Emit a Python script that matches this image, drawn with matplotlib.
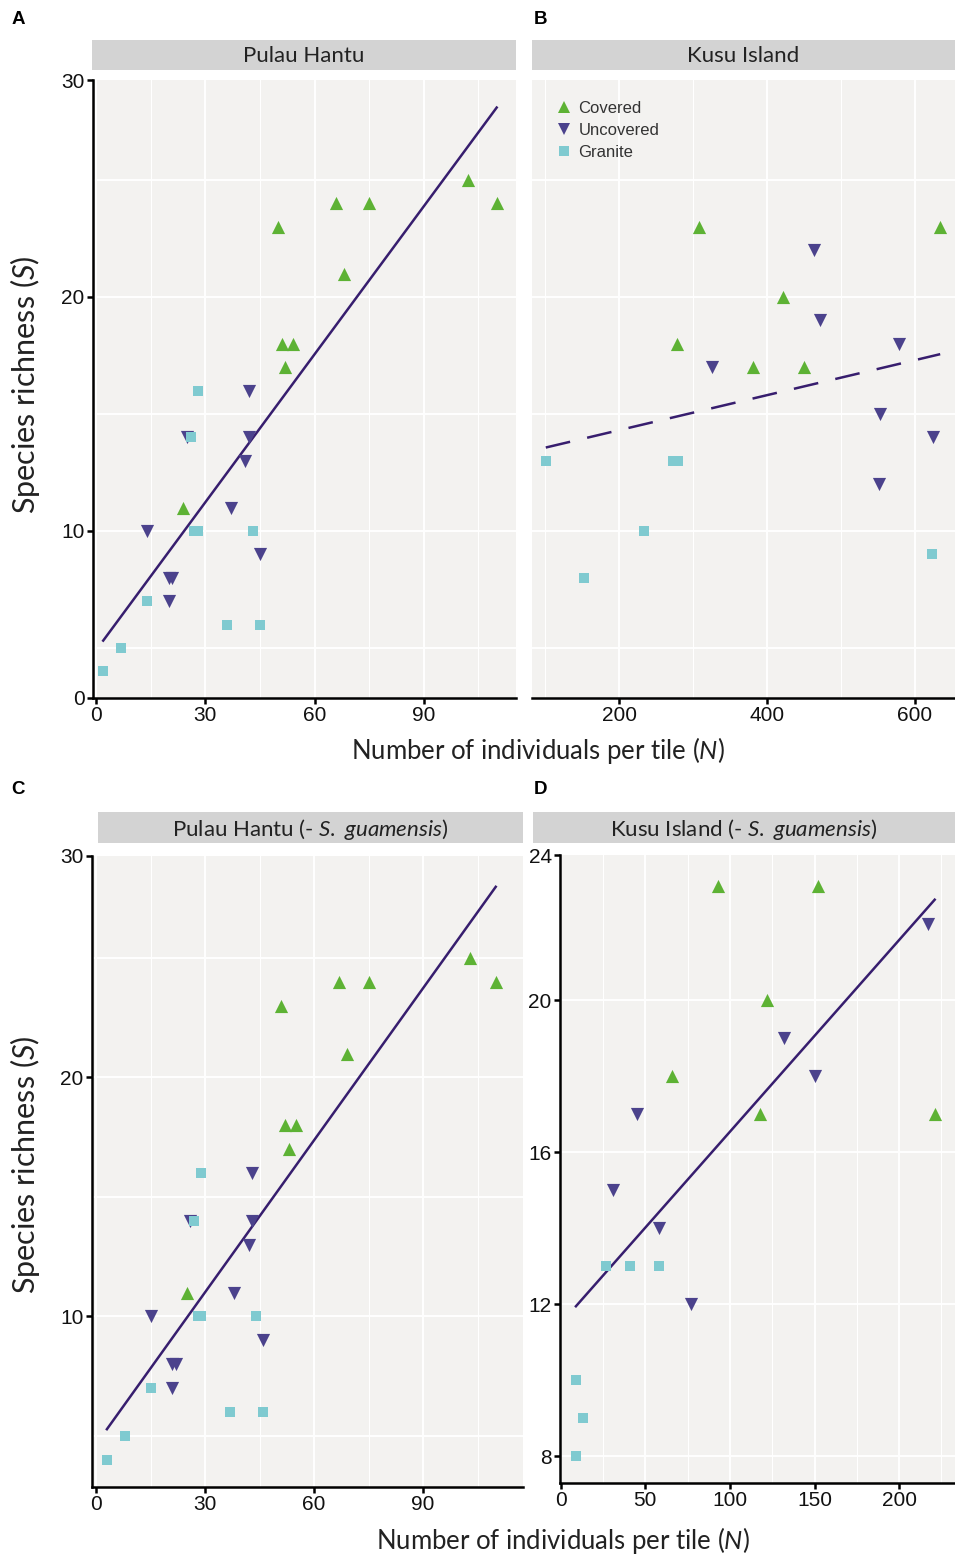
import numpy as np
import matplotlib.pyplot as plt
from matplotlib.lines import Line2D

# ---- data ----
# A: Pulau Hantu
ph_cov_n = [24, 50, 51, 54, 52, 66, 68, 75, 102, 110]
ph_cov_s = [11, 23, 18, 18, 17, 24, 21, 24, 25, 24]
ph_unc_n = [14, 20, 21, 20, 25, 37, 41, 42, 42, 45]
ph_unc_s = [10, 8, 8, 7, 14, 11, 13, 14, 16, 9]
ph_gra_n = [2, 7, 14, 26, 27, 28, 28, 36, 43, 45]
ph_gra_s = [4, 5, 7, 14, 10, 10, 16, 6, 10, 6]

# B: Kusu Island
ku_cov_n = [278, 308, 381, 422, 450, 634]
ku_cov_s = [18, 23, 17, 20, 17, 23]
ku_unc_n = [325, 463, 472, 553, 551, 578, 624]
ku_unc_s = [17, 22, 19, 15, 12, 18, 14]
ku_gra_n = [101, 152, 234, 273, 280, 623]
ku_gra_s = [13, 8, 10, 13, 13, 9]

# C: Pulau Hantu (- S. guamensis)
phg_cov_n = [25, 51, 52, 55, 53, 67, 69, 75, 103, 110]
phg_cov_s = [11, 23, 18, 18, 17, 24, 21, 24, 25, 24]
phg_unc_n = [15, 21, 22, 21, 26, 38, 42, 43, 43, 46]
phg_unc_s = [10, 8, 8, 7, 14, 11, 13, 14, 16, 9]
phg_gra_n = [3, 8, 15, 27, 28, 29, 29, 37, 44, 46]
phg_gra_s = [4, 5, 7, 14, 10, 10, 16, 6, 10, 6]

# D: Kusu Island (- S. guamensis)
kug_cov_n = [66, 93, 118, 122, 152, 221]
kug_cov_s = [18, 23, 17, 20, 23, 17]
kug_unc_n = [31, 45, 58, 77, 132, 150, 217]
kug_unc_s = [15, 17, 14, 12, 19, 18, 22]
kug_gra_n = [9, 9, 13, 27, 41, 58]
kug_gra_s = [8, 10, 9, 13, 13, 13]

groups = ["Covered", "Uncovered", "Granite"]

# ---- style ----
plt.rcParams['mathtext.fontset'] = 'custom'
plt.rcParams['mathtext.rm'] = 'Lato'
plt.rcParams['mathtext.it'] = 'Lato:italic'

c_cov = '#5DB234'
c_unc = '#4B428C'
c_gra = '#7FCAD0'
c_line = '#371E6E'
c_bg = '#F3F2F0'
c_strip = '#D3D3D3'
tick_font = 'Liberation Sans'
title_font = 'Lato'

W, H = 955, 1558
fig = plt.figure(figsize=(W / 100, H / 100), dpi=100)


def rect(x0, y0, x1, y1):
    # pixel box (from top-left) -> figure fraction
    return [x0 / W, 1 - y1 / H, (x1 - x0) / W, (y1 - y0) / H]


def strip(box, label):
    s = fig.add_axes(rect(*box))
    s.set_facecolor(c_strip)
    s.set_xticks([])
    s.set_yticks([])
    for sp in s.spines.values():
        sp.set_visible(False)
    s.text(0.5, 0.45, label, ha='center', va='center', fontsize=16,
           family=title_font, color='#222222', transform=s.transAxes)


def panel(box, xlim, ylim, cov, unc, gra, xgrid, xgrid_minor, ygrid,
          xticks, yticks, yticklabels, dashed=False, left=True):
    ax = fig.add_axes(rect(*box))
    ax.set_facecolor(c_bg)
    ax.set_xlim(*xlim)
    ax.set_ylim(*ylim)
    for g in xgrid_minor:
        ax.axvline(g, color='white', lw=0.8, zorder=0)
    for g in xgrid:
        ax.axvline(g, color='white', lw=1.4, zorder=0)
    for g in ygrid:
        ax.axhline(g, color='white', lw=1.4, zorder=0)

    ax.scatter(cov[0], cov[1], marker='^', s=90, color=c_cov, lw=0, zorder=3)
    ax.scatter(unc[0], unc[1], marker='v', s=90, color=c_unc, lw=0, zorder=3)
    ax.scatter(gra[0], gra[1], marker='s', s=62, color=c_gra, lw=0, zorder=3)

    # linear fit over all tiles
    n_all = np.concatenate([cov[0], unc[0], gra[0]]).astype(float)
    s_all = np.concatenate([cov[1], unc[1], gra[1]]).astype(float)
    b, a = np.polyfit(n_all, s_all, 1)
    xx = np.array([n_all.min(), n_all.max()])
    if dashed:
        ax.plot(xx, a + b * xx, color=c_line, lw=1.8, dashes=(10, 7), zorder=2)
    else:
        ax.plot(xx, a + b * xx, color=c_line, lw=1.8, zorder=2)

    ax.spines['top'].set_visible(False)
    ax.spines['right'].set_visible(False)
    ax.spines['bottom'].set_linewidth(1.8)
    ax.spines['left'].set_linewidth(1.8)
    ax.set_xticks(xticks)
    ax.set_xticklabels([str(t) for t in xticks])
    if left:
        ax.set_yticks(yticks)
        ax.set_yticklabels(yticklabels)
    else:
        ax.spines['left'].set_visible(False)
        ax.set_yticks([])
    ax.tick_params(length=4, width=1.8, color='black', labelsize=15,
                   labelcolor='#111111', pad=2)
    for lab in ax.get_xticklabels() + ax.get_yticklabels():
        lab.set_family(tick_font)
    return ax


ylim_ph = (2.86, 29.27)
ylim_ku = (7.29, 23.82)

axA = panel((93, 80, 516, 698), (-0.8, 115.3), ylim_ph,
            (ph_cov_n, ph_cov_s), (ph_unc_n, ph_unc_s), (ph_gra_n, ph_gra_s),
            [0, 30, 60, 90], [15, 45, 75, 105], [5, 10, 15, 20, 25],
            [0, 30, 60, 90], [ylim_ph[0], 10, 20, ylim_ph[1]], ['0', '10', '20', '30'])
strip((92, 40, 516, 70), 'Pulau Hantu')

axB = panel((532, 80, 955, 698), (82.4, 654), ylim_ph,
            (ku_cov_n, ku_cov_s), (ku_unc_n, ku_unc_s), (ku_gra_n, ku_gra_s),
            [200, 400, 600], [100, 300, 500], [5, 10, 15, 20, 25],
            [200, 400, 600], [], [], dashed=True, left=False)
strip((532, 40, 955, 70), 'Kusu Island')

handles = [Line2D([], [], marker='^', ls='', color=c_cov, ms=9, mew=0),
           Line2D([], [], marker='v', ls='', color=c_unc, ms=9, mew=0),
           Line2D([], [], marker='s', ls='', color=c_gra, ms=7.5, mew=0)]
leg = axB.legend(handles, groups, loc='upper left', frameon=False,
                 bbox_to_anchor=((551 - 532) / 423, 1 - (94 - 80) / 618),
                 handlelength=0.8, handletextpad=0.45, labelspacing=0.42,
                 borderaxespad=0, prop={'family': tick_font, 'size': 12})
for t in leg.get_texts():
    t.set_color('#333333')

axC = panel((92, 856, 523, 1487), (-1.1, 117.5), ylim_ph,
            (phg_cov_n, phg_cov_s), (phg_unc_n, phg_unc_s), (phg_gra_n, phg_gra_s),
            [0, 30, 60, 90], [15, 45, 75, 105], [5, 10, 15, 20, 25],
            [0, 30, 60, 90], [10, 20, ylim_ph[1]], ['10', '20', '30'])
strip((98, 812, 523, 843), 'Pulau Hantu (- $\\it{S.\\ guamensis}$)')

axD = panel((560, 855, 955, 1483), (-0.4, 233), ylim_ku,
            (kug_cov_n, kug_cov_s), (kug_unc_n, kug_unc_s), (kug_gra_n, kug_gra_s),
            [0, 50, 100, 150, 200], [25, 75, 125, 175, 225], [8, 12, 16, 20],
            [0, 50, 100, 150, 200], [8, 12, 16, 20, ylim_ku[1]], ['8', '12', '16', '20', '24'])
strip((533, 812, 955, 843), 'Kusu Island (- $\\it{S.\\ guamensis}$)')

# axis titles
xl = 'Number of individuals per tile ($\\it{N}$)'
yl = 'Species richness ($\\it{S}$)'
fig.text(538 / W, 1 - 751 / H, xl, ha='center', va='center', fontsize=18.5,
         family=title_font, color='#222222')
fig.text(563 / W, 1 - 1541 / H, xl, ha='center', va='center', fontsize=18.5,
         family=title_font, color='#222222')
fig.text(25 / W, 1 - 385 / H, yl, ha='center', va='center', rotation=90,
         fontsize=22, family=title_font, color='#222222')
fig.text(25 / W, 1 - 1165 / H, yl, ha='center', va='center', rotation=90,
         fontsize=22, family=title_font, color='#222222')

# panel letters
for lab, x, y in [('A', 18, 19), ('B', 540, 19), ('C', 18, 789), ('D', 540, 789)]:
    fig.text(x / W, 1 - y / H, lab, ha='center', va='center', fontsize=13.5,
             fontweight='bold', family=tick_font)

fig.savefig('out.png', dpi=100)
